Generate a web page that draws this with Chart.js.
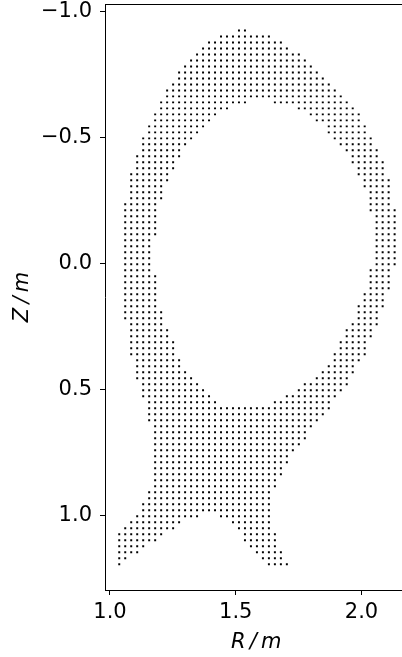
<!DOCTYPE html>
<html>
<head>
<meta charset="utf-8">
<script src="https://cdn.jsdelivr.net/npm/chart.js@4/dist/chart.umd.min.js"></script>
<style>
  html, body { margin: 0; padding: 0; background: #fff; overflow: hidden; width: 402px; height: 657px; }
  #wrap { position: relative; width: 409px; height: 657px; }
</style>
</head>
<body>
<div id="wrap"><canvas id="grid" width="409" height="657"></canvas></div>
<script>
// regular (R, Z) grid of the points
var gridR0 = 1.0368;
var gridZ0 = -0.9258;
var gridStep = 0.0238;

// tick values and labels
var rTickValues = [1.0, 1.5, 2.0];
var rTickLabels = ['1.0', '1.5', '2.0'];
var zTickValues = [-1.0, -0.5, 0.0, 0.5, 1.0];
var zTickLabels = ['\u22121.0', '\u22120.5', '0.0', '0.5', '1.0'];

// occupied grid columns per grid row (top to bottom), as [first, last] runs
var rowSpans = [
  [[20,21]],
  [[17,25]],
  [[15,27]],
  [[14,28]],
  [[13,30]],
  [[12,31]],
  [[11,32]],
  [[10,33]],
  [[10,34]],
  [[9,35]],
  [[8,36]],
  [[8,37]],
  [[7,21],[26,38]],
  [[7,18],[30,39]],
  [[6,16],[32,40]],
  [[6,15],[33,40]],
  [[5,14],[35,41]],
  [[5,13],[35,41]],
  [[4,12],[36,42]],
  [[4,11],[37,42]],
  [[4,10],[38,43]],
  [[3,10],[39,43]],
  [[3,9],[39,44]],
  [[3,9],[40,44]],
  [[2,8],[40,44]],
  [[2,8],[41,45]],
  [[2,7],[41,45]],
  [[2,7],[42,45]],
  [[2,7],[42,45]],
  [[1,6],[42,45]],
  [[1,6],[42,46]],
  [[1,6],[43,46]],
  [[1,6],[43,46]],
  [[1,6],[43,46]],
  [[1,6],[43,46]],
  [[1,5],[43,46]],
  [[1,5],[43,46]],
  [[1,5],[43,46]],
  [[1,5],[43,46]],
  [[1,5],[43,46]],
  [[1,5],[42,45]],
  [[1,6],[42,45]],
  [[1,6],[42,45]],
  [[1,6],[42,45]],
  [[1,6],[41,44]],
  [[1,6],[41,44]],
  [[1,6],[40,44]],
  [[1,7],[40,43]],
  [[1,7],[40,43]],
  [[2,7],[39,43]],
  [[2,8],[38,42]],
  [[2,8],[38,42]],
  [[2,9],[37,41]],
  [[2,9],[37,41]],
  [[2,9],[36,41]],
  [[3,10],[36,40]],
  [[3,10],[35,39]],
  [[3,11],[34,39]],
  [[3,12],[33,38]],
  [[4,13],[31,38]],
  [[4,14],[30,37]],
  [[4,15],[28,36]],
  [[5,16],[26,35]],
  [[5,35]],
  [[5,34]],
  [[5,33]],
  [[6,32]],
  [[6,31]],
  [[6,31]],
  [[6,30]],
  [[6,29]],
  [[6,28]],
  [[6,28]],
  [[6,27]],
  [[6,27]],
  [[6,26]],
  [[6,26]],
  [[5,25]],
  [[5,25]],
  [[4,25]],
  [[4,25]],
  [[3,13],[17,25]],
  [[2,10],[19,25]],
  [[1,9],[20,25]],
  [[0,7],[21,26]],
  [[0,6],[21,26]],
  [[0,4],[22,26]],
  [[0,3],[23,27]],
  [[0,1],[24,27]],
  [[0,0],[25,28]]
];

function gridPoints() {
  var pts = [];
  rowSpans.forEach(function (spans, row) {
    var z = gridZ0 + row * gridStep;
    spans.forEach(function (s) {
      for (var col = s[0]; col <= s[1]; col++) {
        pts.push({ x: gridR0 + col * gridStep, y: z });
      }
    });
  });
  return pts;
}

var topFrame = {
  id: 'topFrame',
  afterDraw: function (chart) {
    var ctx = chart.ctx, a = chart.chartArea;
    ctx.save();
    ctx.strokeStyle = '#000';
    ctx.lineWidth = 1;
    ctx.beginPath();
    ctx.moveTo(a.left, a.top + 0.5);
    ctx.lineTo(a.right, a.top + 0.5);
    ctx.stroke();
    ctx.restore();
  }
};

var font = { family: 'DejaVu Sans', size: 21 };
var titleFont = { family: 'DejaVu Sans', size: 21, style: 'italic' };

new Chart(document.getElementById('grid'), {
  type: 'scatter',
  data: {
    datasets: [{
      data: gridPoints(),
      pointStyle: 'rect',
      pointRadius: 1.4,
      pointHoverRadius: 1.4,
      backgroundColor: '#000',
      borderWidth: 0
    }]
  },
  options: {
    responsive: false,
    animation: false,
    devicePixelRatio: 1,
    layout: { padding: { top: 4, right: 0, bottom: 0, left: 0 } },
    plugins: { legend: { display: false }, tooltip: { enabled: false } },
    scales: {
      x: {
        type: 'linear',
        position: 'bottom',
        min: 0.9802,
        max: 2.1832,
        afterFit: function (s) { s.height = 67; s.paddingLeft = 0; s.paddingRight = 0; },
        afterBuildTicks: function (s) { s.ticks = rTickValues.map(function (v) { return { value: v }; }); },
        grid: { drawOnChartArea: false, drawTicks: true, tickLength: 5, tickColor: '#000', tickWidth: 1 },
        border: { display: true, color: '#000', width: 1 },
        ticks: {
          color: '#000', font: font, padding: 5, maxRotation: 0, autoSkip: false,
          callback: function (v, i) { return rTickLabels[i]; }
        },
        title: {
          display: true, text: 'R\u2009/\u2009m', color: '#000', font: titleFont,
          padding: { top: 0, bottom: 2 }
        }
      },
      y: {
        type: 'linear',
        reverse: true,
        min: -1.0306,
        max: 1.2948,
        afterFit: function (s) { s.width = 105; s.paddingTop = 0; s.paddingBottom = 0; },
        afterBuildTicks: function (s) { s.ticks = zTickValues.map(function (v) { return { value: v }; }); },
        grid: { drawOnChartArea: false, drawTicks: true, tickLength: 5, tickColor: '#000', tickWidth: 1 },
        border: { display: true, color: '#000', width: 1 },
        ticks: {
          color: '#000', font: font, padding: 8, autoSkip: false,
          callback: function (v, i) { return zTickLabels[i]; }
        },
        title: {
          display: true, text: 'Z\u2009/\u2009m', color: '#000', font: titleFont,
          padding: { top: 10, bottom: 0 }
        }
      }
    }
  },
  plugins: [topFrame]
});
</script>
</body>
</html>
